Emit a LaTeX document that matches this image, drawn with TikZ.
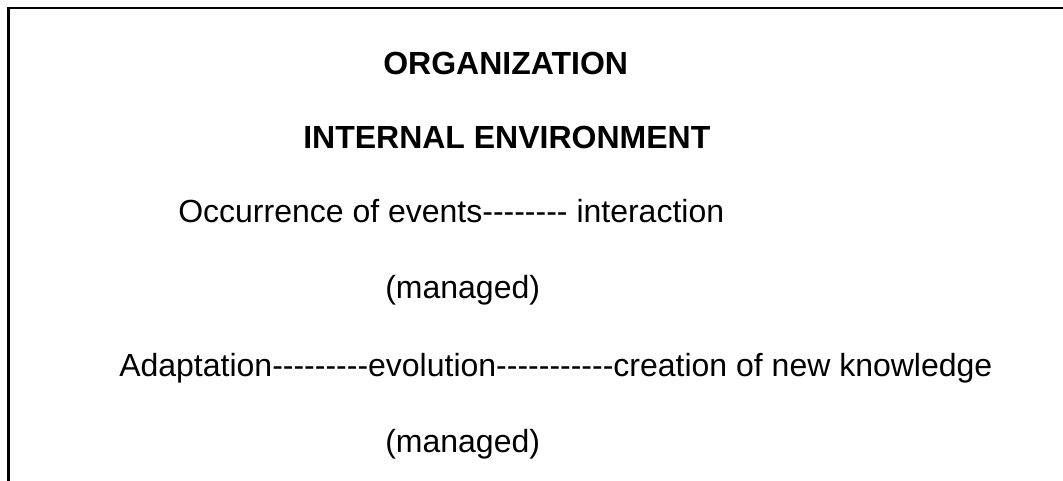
\documentclass[tikz,border=0pt]{standalone}
\usepackage{fontspec}
% plain hyphens: no -- / --- dash ligatures
\setmainfont{Liberation Sans}[Ligatures=TeXOff]
\usetikzlibrary{positioning}
\tikzset{
  frame/.style={draw=black,line width=1.8pt,line cap=rect},
  head/.style={inner sep=0pt,anchor=base west,font=\fontsize{24}{28}\selectfont\bfseries},
  txt/.style={inner sep=0pt,anchor=base west,font=\fontsize{24}{28}\selectfont}
}

\begin{document}
\begin{tikzpicture}[x=0.75pt,y=-0.75pt]
  \useasboundingbox (0,0) rectangle (1063,481);
  % open frame: top edge and left edge only
  \draw[frame] (8.5,490) -- (8.5,8) -- (1070,8);
  \node[head] (org) at (383,75) {ORGANIZATION};
  \node[head] (env) at (303,149) {INTERNAL ENVIRONMENT};
  \node[txt] (occ) at (178,222) {Occurrence of events-------- interaction};
  \node[txt] (man1) at (385,298) {(managed)};
  \node[txt] (adp) at (119,376) {Adaptation---------evolution-----------creation of new knowledge};
  \node[txt] (man2) at (385,452) {(managed)};
\end{tikzpicture}
\end{document}
